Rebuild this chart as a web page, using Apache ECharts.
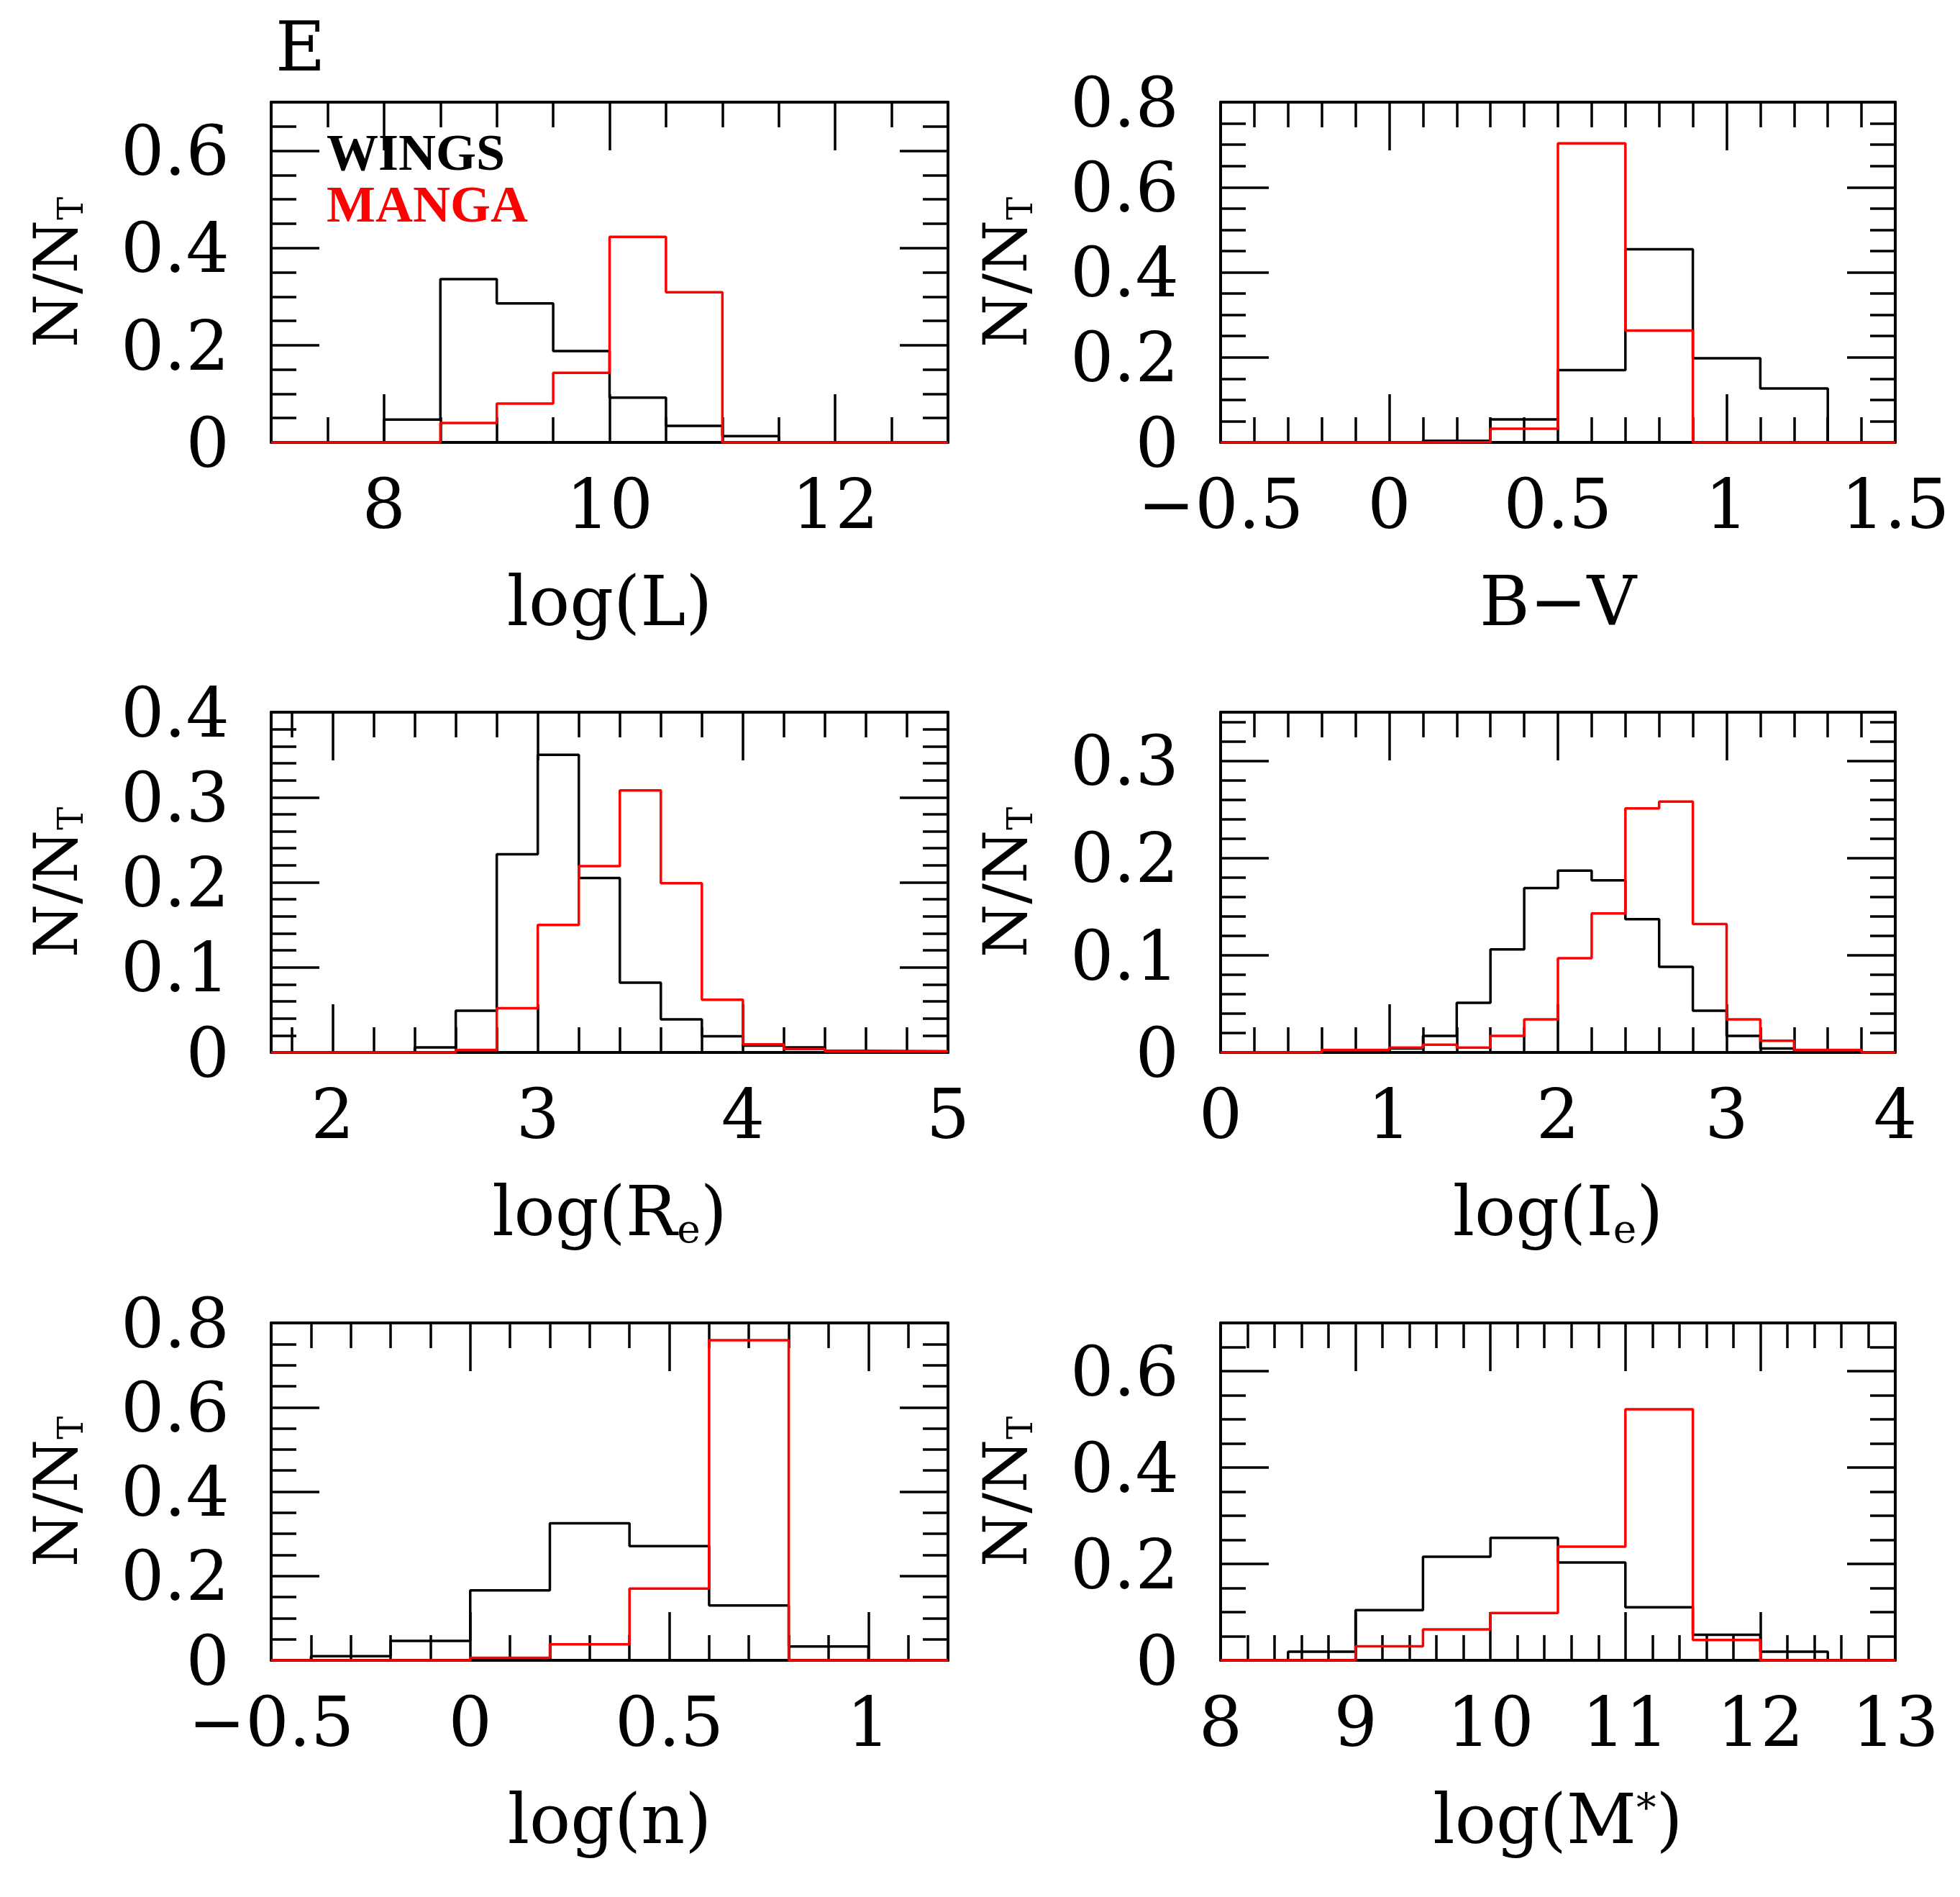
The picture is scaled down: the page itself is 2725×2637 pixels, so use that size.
<!DOCTYPE html>
<html>
<head>
<meta charset="utf-8">
<script src="https://cdn.jsdelivr.net/npm/echarts@6/dist/echarts.min.js"></script>
<style>
html,body{margin:0;padding:0;background:#fff;}
#chart{width:2725px;height:2637px;}
</style>
</head>
<body>
<div id="chart"></div>
<script>
// ---------- helpers ----------
function ticksFrom(a, b, step) {
  const out = [];
  const n = Math.round((b - a) / step);
  for (let i = 0; i <= n; i++) out.push(+(a + i * step).toFixed(4));
  return out;
}

// ---------- DATA ----------
// Panel 1: log(L)
const lumEdges = [7, 8, 8.5, 9, 9.5, 10, 10.5, 11, 11.5, 13];
const lumWings = [0, 0.047, 0.336, 0.286, 0.188, 0.092, 0.034, 0.013, 0];
const lumManga = [0, 0, 0.040, 0.080, 0.143, 0.423, 0.309, 0, 0];
const lumXLabels = [8, 10, 12];
const lumXMajor = [8, 10, 12];
const lumXMinor = ticksFrom(7, 13, 0.5);
const lumYLabels = [0, 0.2, 0.4, 0.6];
const lumYMinor = ticksFrom(0, 0.7, 0.05);

// Panel 2: B-V
const bvEdges = [-0.5, 0.1, 0.3, 0.5, 0.7, 0.9, 1.1, 1.3, 1.5];
const bvWings = [0, 0.004, 0.054, 0.170, 0.454, 0.198, 0.127, 0];
const bvManga = [0, 0.001, 0.032, 0.703, 0.263, 0, 0, 0];
const bvXLabels = [-0.5, 0, 0.5, 1, 1.5];
const bvXMajor = [0, 1];
const bvXMinor = ticksFrom(-0.5, 1.5, 0.1);
const bvYLabels = [0, 0.2, 0.4, 0.6, 0.8];
const bvYMinor = ticksFrom(0, 0.8, 0.05);

// Panel 3: log(Re)
const reEdges = [1.7, 2.4, 2.6, 2.8, 3.0, 3.2, 3.4, 3.6, 3.8, 4.0, 4.2, 4.4, 4.6, 5.0];
const reWings = [0, 0.006, 0.049, 0.233, 0.350, 0.205, 0.082, 0.039, 0.019, 0.008, 0.006, 0.002, 0.001];
const reManga = [0, 0, 0.003, 0.052, 0.150, 0.219, 0.308, 0.199, 0.062, 0.0095, 0.004, 0.0015, 0.0015];
const reXLabels = [2, 3, 4, 5];
const reXMajor = [2, 3, 4, 5];
const reXMinor = ticksFrom(1.8, 5.0, 0.2);
const reYLabels = [0, 0.1, 0.2, 0.3, 0.4];
const reYMinor = ticksFrom(0, 0.4, 0.02);

// Panel 4: log(Ie)
const ieEdges = [0, 0.6, 0.8, 1.0, 1.2, 1.4, 1.6, 1.8, 2.0, 2.2, 2.4, 2.6, 2.8, 3.0, 3.2, 3.4, 3.6, 3.8, 4.0];
const ieWings = [0, 0.002, 0.002, 0.004, 0.017, 0.051, 0.106, 0.169, 0.187, 0.177, 0.137, 0.088, 0.043, 0.017, 0.004, 0.002, 0.002, 0];
const ieManga = [0, 0.0025, 0.0025, 0.005, 0.008, 0.005, 0.017, 0.034, 0.097, 0.143, 0.251, 0.258, 0.132, 0.034, 0.012, 0.0025, 0.0025, 0];
const ieXLabels = [0, 1, 2, 3, 4];
const ieXMajor = [1, 2, 3];
const ieXMinor = ticksFrom(0, 4, 0.2);
const ieYLabels = [0, 0.1, 0.2, 0.3];
const ieYMinor = ticksFrom(0, 0.34, 0.02);

// Panel 5: log(n)
const nEdges = [-0.5, -0.4, -0.2, 0, 0.2, 0.4, 0.6, 0.8, 1.0, 1.2];
const nWings = [0, 0.010, 0.046, 0.166, 0.325, 0.271, 0.130, 0.033, 0];
const nManga = [0, 0, 0, 0.006, 0.038, 0.170, 0.759, 0, 0];
const nXLabels = [-0.5, 0, 0.5, 1];
const nXMajor = [0, 0.5, 1];
const nXMinor = ticksFrom(-0.5, 1.2, 0.1);
const nYLabels = [0, 0.2, 0.4, 0.6, 0.8];
const nYMinor = ticksFrom(0, 0.8, 0.05);

// Panel 6: log(M*)
const mEdges = [8, 8.5, 9, 9.5, 10, 10.5, 11, 11.5, 12, 12.5, 13];
const mWings = [0, 0.018, 0.104, 0.215, 0.254, 0.203, 0.110, 0.053, 0.018, 0];
const mManga = [0, 0, 0.029, 0.064, 0.098, 0.236, 0.521, 0.042, 0, 0];
const mXLabels = [8, 9, 10, 11, 12, 13];
const mXMajor = [9, 10, 11, 12];
const mXMinor = ticksFrom(8, 13, 0.2);
const mYLabels = [0, 0.2, 0.4, 0.6];
const mYMinor = ticksFrom(0, 0.7, 0.05);

const seriesNames = ['WINGS', 'MANGA'];
const seriesColors = ['#000000', '#ff0000'];

// ---------- LAYOUT ----------
const FONT = 'DejaVu Serif';
const LEGFONT = 'Liberation Serif';
const panels = [
  {edges: lumEdges, wings: lumWings, manga: lumManga, xmin: 7, xmax: 13, xl: lumXLabels, xM: lumXMajor, xm: lumXMinor, ymax: 0.7, yl: lumYLabels, ym: lumYMinor, name: 'log(L)'},
  {edges: bvEdges, wings: bvWings, manga: bvManga, xmin: -0.5, xmax: 1.5, xl: bvXLabels, xM: bvXMajor, xm: bvXMinor, ymax: 0.8, yl: bvYLabels, ym: bvYMinor, name: 'B\u2212V'},
  {edges: reEdges, wings: reWings, manga: reManga, xmin: 1.7, xmax: 5, xl: reXLabels, xM: reXMajor, xm: reXMinor, ymax: 0.4, yl: reYLabels, ym: reYMinor, name: 'log(R{sub|e})'},
  {edges: ieEdges, wings: ieWings, manga: ieManga, xmin: 0, xmax: 4, xl: ieXLabels, xM: ieXMajor, xm: ieXMinor, ymax: 0.35, yl: ieYLabels, ym: ieYMinor, name: 'log(I{sub|e})'},
  {edges: nEdges, wings: nWings, manga: nManga, xmin: -0.5, xmax: 1.2, xl: nXLabels, xM: nXMajor, xm: nXMinor, ymax: 0.8, yl: nYLabels, ym: nYMinor, name: 'log(n)'},
  {edges: mEdges, wings: mWings, manga: mManga, xmin: 8, xmax: 13, xl: mXLabels, xM: mXMajor, xm: mXMinor, ymax: 0.7, yl: mYLabels, ym: mYMinor, name: 'log(M{sup|*})'}
];

const gridLefts = [377, 1697];
const gridWidths = [941, 938];
const gridTops = [142, 990, 1839];
const gridHeights = [473, 473, 469];

function fmt(v) {
  return v < 0 ? '\u2212' + String(Math.abs(v)) : String(v);
}
function fmtY(v) {
  return '{a|' + fmt(v) + '}';
}
function steps(edges, vals) {
  const d = vals.map((v, i) => [edges[i], v]);
  d.push([edges[edges.length - 1], vals[vals.length - 1]]);
  return d;
}

const FRAME_W = 4, TICK_W = 3.5, MAJ = 67, MIN = 35;
const TICKFS = 95;
const richName = {
  sub: {fontSize: 55, fontFamily: FONT, color: '#000', verticalAlign: 'bottom', lineHeight: 55, padding: [40, 0, 0, 0]},
  sup: {fontSize: 55, fontFamily: FONT, color: '#000', verticalAlign: 'top', lineHeight: 55}
};

const grid = [], xAxis = [], yAxis = [], series = [];

panels.forEach((p, g) => {
  const col = g % 2, row = Math.floor(g / 2);
  grid.push({left: gridLefts[col], top: gridTops[row], width: gridWidths[col], height: gridHeights[row]});

  const xCommon = {type: 'value', gridIndex: g, min: p.xmin, max: p.xmax, splitLine: {show: false}};
  const yCommon = {type: 'value', gridIndex: g, min: 0, max: p.ymax, splitLine: {show: false}};
  const lineOn = {show: true, onZero: false, lineStyle: {color: '#000', width: FRAME_W}};
  const lineOff = {show: false, onZero: false};

  const xMainIndex = xAxis.length;
  xAxis.push(Object.assign({}, xCommon, {
    position: 'bottom',
    axisLine: lineOn,
    axisTick: {show: true, inside: true, length: MAJ, customValues: p.xM, lineStyle: {color: '#000', width: TICK_W}},
    axisLabel: {show: true, customValues: p.xl, formatter: fmt, fontSize: TICKFS, fontFamily: FONT, color: '#000', margin: 47},
    name: p.name, nameLocation: 'middle', nameGap: 182,
    nameTextStyle: {fontSize: 95, fontFamily: FONT, color: '#000', rich: richName}
  }));
  xAxis.push(Object.assign({}, xCommon, {
    position: 'bottom', axisLine: lineOff,
    axisTick: {show: true, inside: true, length: MIN, customValues: p.xm, lineStyle: {color: '#000', width: TICK_W}},
    axisLabel: {show: false}
  }));
  xAxis.push(Object.assign({}, xCommon, {
    position: 'top', axisLine: lineOn,
    axisTick: {show: true, inside: true, length: MAJ, customValues: p.xM, lineStyle: {color: '#000', width: TICK_W}},
    axisLabel: {show: false}
  }));
  xAxis.push(Object.assign({}, xCommon, {
    position: 'top', axisLine: lineOff,
    axisTick: {show: true, inside: true, length: MIN, customValues: p.xm, lineStyle: {color: '#000', width: TICK_W}},
    axisLabel: {show: false}
  }));

  const yMainIndex = yAxis.length;
  yAxis.push(Object.assign({}, yCommon, {
    position: 'left', axisLine: lineOn,
    axisTick: {show: true, inside: true, length: MAJ, customValues: p.yl, lineStyle: {color: '#000', width: TICK_W}},
    axisLabel: {show: true, customValues: p.yl, formatter: fmtY, color: '#000', margin: 58,
      rich: {a: {fontSize: TICKFS, fontFamily: FONT, color: '#000', padding: [18, 0, 0, 0]}}},
    name: 'N/N{sub|T}', nameLocation: 'middle', nameGap: 250,
    nameTextStyle: {fontSize: 85, fontFamily: FONT, color: '#000', rich: {
      sub: {fontSize: 48, fontFamily: FONT, color: '#000', verticalAlign: 'bottom', lineHeight: 48, padding: [30, 0, 0, 0]}
    }}
  }));
  yAxis.push(Object.assign({}, yCommon, {
    position: 'left', axisLine: lineOff,
    axisTick: {show: true, inside: true, length: MIN, customValues: p.ym, lineStyle: {color: '#000', width: TICK_W}},
    axisLabel: {show: false}
  }));
  yAxis.push(Object.assign({}, yCommon, {
    position: 'right', axisLine: lineOn,
    axisTick: {show: true, inside: true, length: MAJ, customValues: p.yl, lineStyle: {color: '#000', width: TICK_W}},
    axisLabel: {show: false}
  }));
  yAxis.push(Object.assign({}, yCommon, {
    position: 'right', axisLine: lineOff,
    axisTick: {show: true, inside: true, length: MIN, customValues: p.ym, lineStyle: {color: '#000', width: TICK_W}},
    axisLabel: {show: false}
  }));

  [p.wings, p.manga].forEach((vals, k) => {
    series.push({
      type: 'line', name: seriesNames[k], step: 'end',
      xAxisIndex: xMainIndex, yAxisIndex: yMainIndex,
      data: steps(p.edges, vals),
      symbol: 'none', showSymbol: false,
      lineStyle: {color: seriesColors[k], width: TICK_W},
      itemStyle: {color: seriesColors[k]},
      z: 3 + k, animation: false
    });
  });
});

const chart = echarts.init(document.getElementById('chart'), null, {renderer: 'canvas'});
chart.setOption({
  backgroundColor: '#fff',
  animation: false,
  title: {text: 'E', left: 378, top: 21, textStyle: {fontSize: 95, fontFamily: FONT, fontWeight: 'normal', color: '#000'}},
  legend: {
    left: 444, top: 176, orient: 'vertical', itemWidth: 0, itemHeight: 10, itemGap: 0, icon: 'none',
    selectedMode: false,
    textStyle: {fontSize: 72, fontFamily: LEGFONT, fontWeight: 'bold', lineHeight: 69},
    data: [
      {name: 'WINGS', textStyle: {color: seriesColors[0]}},
      {name: 'MANGA', textStyle: {color: seriesColors[1]}}
    ]
  },
  grid: grid,
  xAxis: xAxis,
  yAxis: yAxis,
  series: series
});
</script>
</body>
</html>
